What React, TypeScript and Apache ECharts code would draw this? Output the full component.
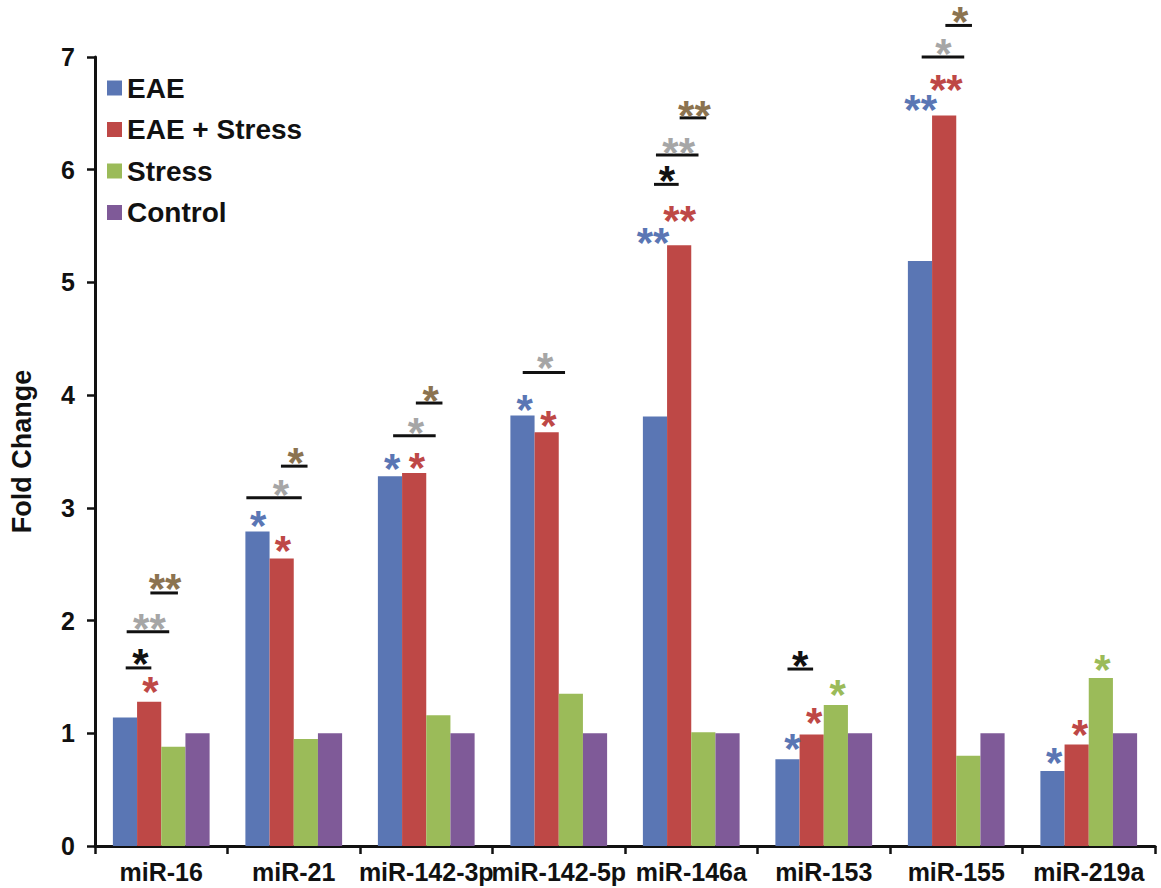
import React, { useEffect, useRef } from "react";
import * as echarts from "echarts";

const categories = ["miR-16", "miR-21", "miR-142-3p", "miR-142-5p", "miR-146a", "miR-153", "miR-155", "miR-219a"];
const seriesNames = ["EAE", "EAE + Stress", "Stress", "Control"];
const eae = [1.14, 2.79, 3.28, 3.82, 3.81, 0.77, 5.19, 0.665];
const eaeStress = [1.28, 2.55, 3.31, 3.67, 5.33, 0.99, 6.48, 0.9];
const stress = [0.88, 0.95, 1.16, 1.35, 1.01, 1.25, 0.8, 1.49];
const control = [1, 1, 1, 1, 1, 1, 1, 1];
const yTicks = [0, 1, 2, 3, 4, 5, 6, 7];

const colors = ["#5A76B4", "#BE4846", "#9BBB59", "#7F5A98"];
const starColors: Record<string, string> = {
  blue: "#5A76B4",
  red: "#BE4846",
  green: "#9BBB59",
  black: "#111111",
  gray: "#A6A6A6",
  brown: "#8B7350",
};

// significance marks: [category index, slot offset (bar widths from category centre), value, text, colour]
const stars: [number, number, number, string, string][] = [
  [0, -0.45, 1.42, "*", "red"],
  [0, -0.86, 1.67, "*", "black"],
  [0, -0.49, 1.98, "**", "gray"],
  [0, 0.16, 2.33, "**", "brown"],
  [1, -1.47, 2.89, "*", "blue"],
  [1, -0.45, 2.67, "*", "red"],
  [1, -0.53, 3.17, "*", "gray"],
  [1, 0.08, 3.45, "*", "brown"],
  [2, -1.41, 3.4, "*", "blue"],
  [2, -0.39, 3.41, "*", "red"],
  [2, -0.43, 3.72, "*", "gray"],
  [2, 0.18, 4.0, "*", "brown"],
  [3, -1.41, 3.92, "*", "blue"],
  [3, -0.43, 3.78, "*", "red"],
  [3, -0.56, 4.29, "*", "gray"],
  [4, -1.58, 5.4, "**", "blue"],
  [4, -0.48, 5.6, "**", "red"],
  [4, -1.01, 5.95, "*", "black"],
  [4, -0.52, 6.2, "**", "gray"],
  [4, 0.13, 6.53, "**", "brown"],
  [5, -1.3, 0.91, "*", "blue"],
  [5, -0.4, 1.14, "*", "red"],
  [5, 0.58, 1.39, "*", "green"],
  [5, -0.97, 1.65, "*", "black"],
  [6, -1.47, 6.58, "**", "blue"],
  [6, -0.41, 6.76, "**", "red"],
  [6, -0.53, 7.08, "*", "gray"],
  [6, 0.16, 7.36, "*", "brown"],
  [7, -1.43, 0.79, "*", "blue"],
  [7, -0.37, 1.04, "*", "red"],
  [7, 0.57, 1.61, "*", "green"],
];

// underline bars: [category index, from slot, to slot, value]
const underlines: [number, number, number, number][] = [
  [0, -1.47, -0.41, 1.58],
  [0, -1.43, 0.33, 1.9],
  [0, -0.45, 0.69, 2.245],
  [1, -1.96, 0.33, 3.09],
  [1, -0.53, 0.57, 3.37],
  [2, -1.37, 0.39, 3.64],
  [2, -0.43, 0.67, 3.93],
  [3, -1.49, 0.26, 4.2],
  [4, -1.54, -0.52, 5.87],
  [4, -1.46, 0.3, 6.13],
  [4, -0.48, 0.62, 6.46],
  [5, -1.5, -0.44, 1.57],
  [6, -1.43, 0.33, 7.0],
  [6, -0.45, 0.65, 7.28],
];

const FONT = "'Liberation Sans', Arial, sans-serif";
const BAR_FRAC = 0.73 / 4;
const STAR_SIZE = 42;

export default function App() {
  const ref = useRef<HTMLDivElement>(null);
  useEffect(() => {
    if (!ref.current) return;
    const chart = echarts.init(ref.current, undefined, { renderer: "svg" });
    const barSeries = [eae, eaeStress, stress, control].map((d, i) => ({
      name: seriesNames[i],
      type: "bar" as const,
      data: d,
      barGap: "0%",
      barCategoryGap: "27%",
      itemStyle: { color: colors[i] },
    }));
    chart.setOption({
      animation: false,
      grid: { left: 82, right: 6, top: 57, bottom: 42, containLabel: false },
      legend: {
        orient: "vertical",
        left: 102,
        top: 69,
        itemWidth: 15,
        itemHeight: 15,
        itemGap: 13.5,
        icon: "rect",
        data: seriesNames,
        textStyle: { fontFamily: FONT, fontWeight: "bold", fontSize: 28, color: "#111" },
      },
      xAxis: {
        type: "category",
        data: categories,
        axisLine: { lineStyle: { color: "#111", width: 3 } },
        axisTick: { show: true, length: 8, lineStyle: { width: 2.5, color: "#111" } },
        axisLabel: { fontFamily: FONT, fontWeight: "bold", fontSize: 25, color: "#111", margin: 13, interval: 0 },
      },
      yAxis: {
        type: "value",
        min: 0,
        max: 7,
        interval: 1,
        name: "Fold Change",
        nameLocation: "middle",
        nameRotate: 90,
        nameGap: 60,
        nameTextStyle: { fontFamily: FONT, fontWeight: "bold", fontSize: 27, color: "#111" },
        axisLine: { show: true, lineStyle: { color: "#111", width: 3 } },
        axisTick: { show: true, length: 8, lineStyle: { width: 2.5, color: "#111" } },
        splitLine: { show: false },
        axisLabel: {
          fontFamily: FONT,
          fontWeight: "bold",
          fontSize: 25,
          color: "#111",
          margin: 20,
          formatter: (v: number) => (yTicks.includes(v) ? String(v) : ""),
        },
      },
      series: [
        ...barSeries,
        {
          type: "custom",
          silent: true,
          clip: false,
          z: 5,
          data: underlines,
          encode: { x: 0, y: 3 },
          renderItem: (params: any, api: any) => {
            const cat = api.value(0);
            const c = api.coord([cat, api.value(3)]);
            const bw = api.size([1, 0])[0] * BAR_FRAC;
            return {
              type: "line",
              shape: { x1: c[0] + api.value(1) * bw, y1: c[1], x2: c[0] + api.value(2) * bw, y2: c[1] },
              style: { stroke: "#111", lineWidth: 3 },
            };
          },
        },
        {
          type: "custom",
          silent: true,
          clip: false,
          z: 6,
          data: stars,
          encode: { x: 0, y: 2 },
          renderItem: (params: any, api: any) => {
            const item = stars[params.dataIndex];
            const c = api.coord([item[0], item[2]]);
            const bw = api.size([1, 0])[0] * BAR_FRAC;
            return {
              type: "text",
              x: c[0] + item[1] * bw,
              y: c[1] + STAR_SIZE * 0.13,
              style: {
                text: item[3],
                fill: starColors[item[4]],
                font: `bold ${STAR_SIZE}px ${FONT}`,
                lineHeight: 18,
                align: "center",
                verticalAlign: "middle",
              },
            };
          },
        },
      ],
    });
    return () => chart.dispose();
  }, []);
  return <div ref={ref} style={{ width: 1161, height: 888, position: "absolute", left: 0, top: 0 }} />;
}
